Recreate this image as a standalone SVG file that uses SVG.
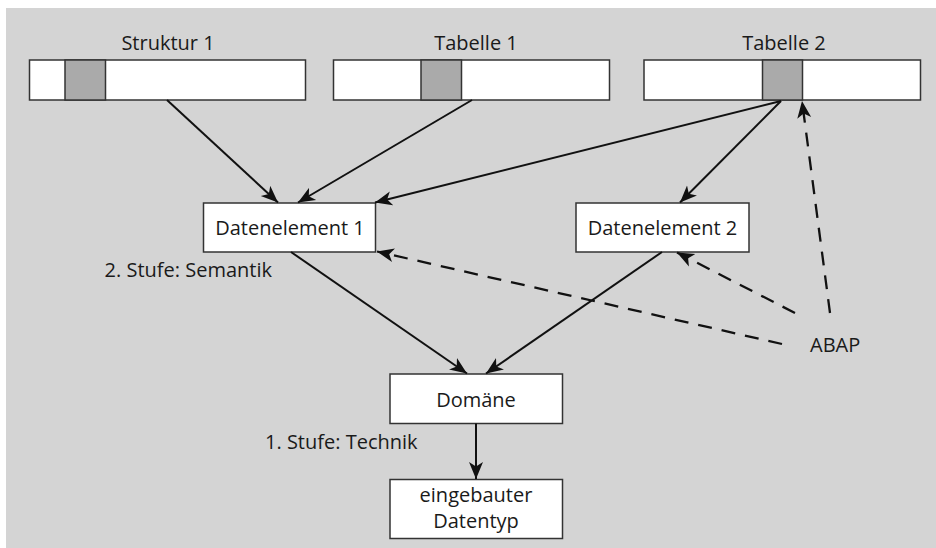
<svg xmlns="http://www.w3.org/2000/svg" width="936" height="548" viewBox="0 0 936 548">
<defs>
<marker id="ah" markerUnits="userSpaceOnUse" markerWidth="18" markerHeight="16" refX="17" refY="7" orient="auto" viewBox="0 0 18 14">
<path d="M0,0 L17,7 L0,14 L4.5,7 Z" fill="#111"/>
</marker>
</defs>
<style>
.box{fill:#fff;stroke:#333;stroke-width:1.5}
.seg{fill:#aaa;stroke:#333;stroke-width:1.5}
.t{font-family:"Open Sans","Noto Sans",sans-serif;font-size:20px;fill:#1a1a1a}
.c{text-anchor:middle}
.e{text-anchor:end}
.ln{stroke:#111;stroke-width:2;fill:none;marker-end:url(#ah)}
.d{stroke-dasharray:14 10;stroke-width:2.3}
</style>
<rect x="6" y="8" width="930" height="540" fill="#d4d4d4"/>
<g id="struktur1">
<rect class="box" x="29.5" y="60" width="276" height="40"/>
<rect class="seg" x="65" y="60" width="40.5" height="40"/>
<text class="t c" x="168" y="50">Struktur 1</text>
</g>
<g id="tabelle1">
<rect class="box" x="333.5" y="60" width="276" height="40"/>
<rect class="seg" x="421" y="60" width="40.5" height="40"/>
<text class="t c" x="476" y="50">Tabelle 1</text>
</g>
<g id="tabelle2">
<rect class="box" x="644" y="60" width="276.5" height="40"/>
<rect class="seg" x="762.5" y="60" width="40" height="40"/>
<text class="t c" x="784" y="50">Tabelle 2</text>
</g>
<g id="datenelement1">
<rect class="box" x="203.5" y="203" width="172" height="49"/>
<text class="t c" x="290" y="235">Datenelement 1</text>
</g>
<g id="datenelement2">
<rect class="box" x="576" y="203" width="173" height="49"/>
<text class="t c" x="662.5" y="235">Datenelement 2</text>
</g>
<g id="domaene">
<rect class="box" x="390" y="374" width="172.5" height="49.5"/>
<text class="t c" x="476" y="407">Domäne</text>
</g>
<g id="datentyp">
<rect class="box" x="390" y="479.5" width="172.5" height="59"/>
<text class="t c" x="476" y="502">eingebauter</text>
<text class="t c" x="476" y="528">Datentyp</text>
</g>
<g id="abap">
<text class="t" x="810" y="352">ABAP</text>
</g>
<g id="labels">
<text class="t e" x="272" y="277">2. Stufe: Semantik</text>
<text class="t" x="265" y="449">1. Stufe: Technik</text>
</g>
<g id="connectors">
<line class="ln" x1="167" y1="100" x2="278" y2="202.5"/>
<line class="ln" x1="472" y1="100" x2="298" y2="202.5"/>
<line class="ln" x1="781" y1="101" x2="375" y2="202.5"/>
<line class="ln" x1="781" y1="101" x2="680" y2="202.5"/>
<line class="ln" x1="291" y1="252" x2="467" y2="373.5"/>
<line class="ln" x1="662" y1="252" x2="486" y2="373.5"/>
<line class="ln" x1="476" y1="423.5" x2="476" y2="479"/>
<line class="ln d" x1="782" y1="344" x2="377" y2="251.5"/>
<line class="ln d" x1="795" y1="313" x2="677" y2="252.5"/>
<line class="ln d" x1="830" y1="313" x2="802" y2="101"/>
</g>
</svg>
